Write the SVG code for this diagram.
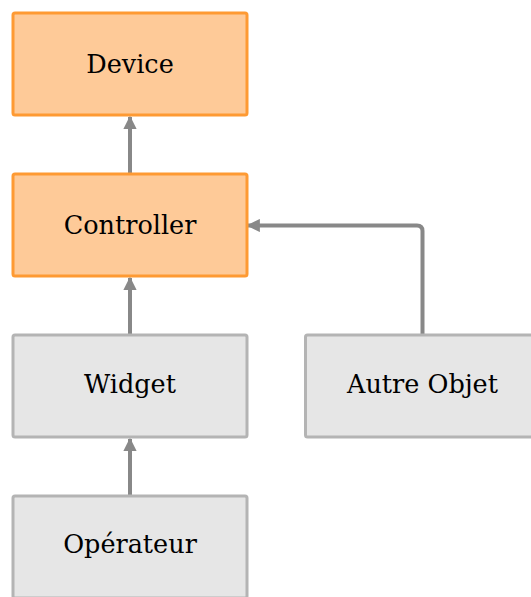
<svg xmlns="http://www.w3.org/2000/svg" width="531" height="597" viewBox="0 0 531 597">
<style>
.orange rect{fill:#FECA98;stroke:#FE9A33;stroke-width:3}
.gray rect{fill:#E6E6E6;stroke:#B4B4B4;stroke-width:3}
text{font-family:"DejaVu Serif","Liberation Serif",serif;font-size:25.5px;fill:#000;text-anchor:middle}
.conn path{fill:none;stroke:#888;stroke-width:4}
</style>
<defs>
<marker id="arr" viewBox="0 0 10 10" refX="9" refY="5" markerWidth="3.3" markerHeight="3.3" orient="auto" markerUnits="strokeWidth">
<path d="M0,0 L10,5 L0,10 z" fill="#888"/>
</marker>
</defs>
<g class="conn" id="connectors">
<path d="M130,174 V117" marker-end="url(#arr)"/>
<path d="M130,335 V278" marker-end="url(#arr)"/>
<path d="M130,496 V439" marker-end="url(#arr)"/>
<path d="M422.5,335 V231 Q422.5,225.5 417,225.5 H248" marker-end="url(#arr)"/>
</g>
<g id="device" class="orange"><rect x="13" y="13" width="234" height="102" rx="2"/><text x="130" y="73">Device</text></g>
<g id="controller" class="orange"><rect x="13" y="174" width="234" height="102" rx="2"/><text x="130" y="234">Controller</text></g>
<g id="widget" class="gray"><rect x="13" y="335" width="234" height="102" rx="2"/><text x="130" y="393">Widget</text></g>
<g id="autre" class="gray"><rect x="305.5" y="335" width="234" height="102" rx="2"/><text x="422.5" y="393">Autre Objet</text></g>
<g id="operateur" class="gray"><rect x="13" y="496" width="234" height="102" rx="2"/><text x="130" y="553">Opérateur</text></g>
</svg>
